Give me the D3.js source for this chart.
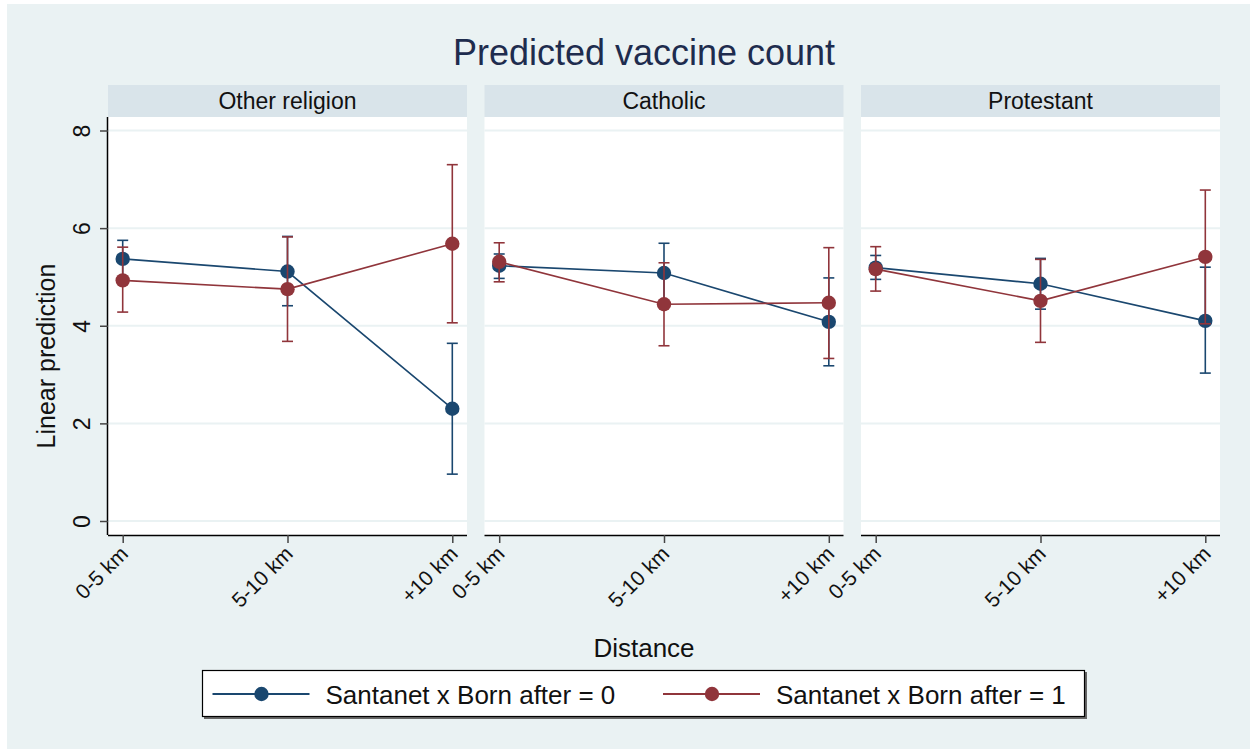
<!DOCTYPE html>
<html>
<head>
<meta charset="utf-8">
<script src="https://cdn.jsdelivr.net/npm/d3@7"></script>
<style>
  html, body { margin: 0; padding: 0; background: #ffffff; }
  svg { display: block; font-family: "Liberation Sans", Arial, sans-serif; }
</style>
</head>
<body>
<svg id="chart" width="1250" height="749"></svg>
<script>
// Panels (religion groups) and distance categories
const panels = ["Other religion", "Catholic", "Protestant"];
const distances = ["0-5 km", "5-10 km", "+10 km"];
const yTicks = [0, 2, 4, 6, 8];
const seriesNames = ["Santanet x Born after = 0", "Santanet x Born after = 1"];

// Predicted values per panel, by distance
const pred0 = [[5.37, 5.11, 2.30], [5.23, 5.08, 4.08], [5.19, 4.86, 4.10]];
const lo0   = [[4.99, 4.41, 0.96], [4.97, 4.47, 3.18], [4.95, 4.34, 3.03]];
const hi0   = [[5.75, 5.83, 3.64], [5.47, 5.69, 4.98], [5.44, 5.38, 5.20]];

const pred1 = [[4.93, 4.75, 5.68], [5.31, 4.44, 4.47], [5.16, 4.51, 5.41]];
const lo1   = [[4.28, 3.68, 4.06], [4.90, 3.59, 3.33], [4.71, 3.66, 4.04]];
const hi1   = [[5.61, 5.82, 7.30], [5.70, 5.29, 5.60], [5.62, 5.36, 6.78]];

const colors = ["#1a476f", "#90353b"];
const bg = "#eaf2f3";
const stripFill = "#d9e4ea";

const svg = d3.select("#chart");

// Graph region background
svg.append("rect").attr("x", 7).attr("y", 4).attr("width", 1243).attr("height", 745).attr("fill", bg);

// Title
svg.append("text").attr("x", 644).attr("y", 65).attr("text-anchor", "middle")
  .attr("font-size", 36).attr("fill", "#1e2c4e").text("Predicted vaccine count");

const panelLeft = [108, 484.5, 861];
const panelW = 359;
const plotTop = 117, plotBottom = 535;

const y = d3.scaleLinear().domain([0, 8]).range([521, 130.5]);

const seriesData = [
  { pred: pred0, lo: lo0, hi: hi0 },
  { pred: pred1, lo: lo1, hi: hi1 }
];

panels.forEach((name, p) => {
  const x0 = panelLeft[p];
  const x = d3.scalePoint().domain(distances).range([x0 + 14.7, x0 + panelW - 14.7]);
  const g = svg.append("g");

  // strip header
  g.append("rect").attr("x", x0).attr("y", 85).attr("width", panelW).attr("height", 32).attr("fill", stripFill);
  g.append("text").attr("x", x0 + panelW / 2).attr("y", 109).attr("text-anchor", "middle")
    .attr("font-size", 23).attr("fill", "#111").text(name);

  // plot area
  g.append("rect").attr("x", x0).attr("y", plotTop).attr("width", panelW).attr("height", plotBottom - plotTop).attr("fill", "#ffffff");

  // gridlines
  g.selectAll(".grid").data(yTicks).join("line")
    .attr("x1", x0).attr("x2", x0 + panelW)
    .attr("y1", d => y(d)).attr("y2", d => y(d))
    .attr("stroke", bg).attr("stroke-width", 2);

  // x axis
  const xAxis = g.append("g").attr("transform", `translate(0,${plotBottom})`)
    .call(d3.axisBottom(x).tickSize(8).tickPadding(4).tickSizeOuter(0));
  xAxis.select(".domain").attr("d", `M${x0},0.5H${x0 + panelW}`).attr("stroke", "#000").attr("stroke-width", 1.5);
  xAxis.selectAll(".tick line").attr("stroke", "#444").attr("stroke-width", 1.5);
  xAxis.selectAll(".tick text")
    .attr("font-size", 21).attr("fill", "#111")
    .attr("text-anchor", "end")
    .attr("x", 0).attr("y", 0).attr("dy", "0.35em")
    .attr("transform", "translate(1,15) rotate(-45)");

  // y axis on first panel only
  if (p === 0) {
    const yAxis = g.append("g").attr("transform", `translate(${x0},0)`)
      .call(d3.axisLeft(y).tickValues(yTicks).tickSize(8).tickPadding(0).tickSizeOuter(0));
    yAxis.select(".domain").attr("d", `M-0.5,${plotTop}V${plotBottom}`).attr("stroke", "#000").attr("stroke-width", 1.5);
    yAxis.selectAll(".tick line").attr("stroke", "#444").attr("stroke-width", 1.5);
    yAxis.selectAll(".tick text")
      .attr("font-size", 23).attr("fill", "#111")
      .attr("text-anchor", "middle")
      .attr("transform", "translate(-26.5,0) rotate(-90)")
      .attr("x", 0).attr("dy", "0.35em");
  }

  // series: error bars, connecting lines, markers
  seriesData.forEach((s, k) => {
    const c = colors[k];
    const pts = distances.map((d, i) => ({ d, v: s.pred[p][i], lo: s.lo[p][i], hi: s.hi[p][i] }));
    const sg = g.append("g");
    pts.forEach(pt => {
      const cx = x(pt.d);
      sg.append("line").attr("x1", cx).attr("x2", cx).attr("y1", y(pt.lo)).attr("y2", y(pt.hi))
        .attr("stroke", c).attr("stroke-width", 1.6);
      [pt.lo, pt.hi].forEach(v => {
        sg.append("line").attr("x1", cx - 5.5).attr("x2", cx + 5.5).attr("y1", y(v)).attr("y2", y(v))
          .attr("stroke", c).attr("stroke-width", 1.6);
      });
    });
    sg.append("path").datum(pts)
      .attr("d", d3.line().x(d => x(d.d)).y(d => y(d.v)))
      .attr("fill", "none").attr("stroke", c).attr("stroke-width", 1.6);
    sg.selectAll("circle").data(pts).join("circle")
      .attr("cx", d => x(d.d)).attr("cy", d => y(d.v)).attr("r", 7.2).attr("fill", c);
  });
});

// Axis titles
svg.append("text").attr("transform", "translate(55,356) rotate(-90)").attr("text-anchor", "middle")
  .attr("font-size", 25).attr("fill", "#111").text("Linear prediction");
svg.append("text").attr("x", 644).attr("y", 657).attr("text-anchor", "middle")
  .attr("font-size", 26).attr("fill", "#111").text("Distance");

// Legend
const lg = svg.append("g");
lg.append("rect").attr("x", 204).attr("y", 672).attr("width", 883).attr("height", 47).attr("fill", "#666");
lg.append("rect").attr("x", 202.5).attr("y", 670.5).attr("width", 882).attr("height", 46)
  .attr("fill", "#ffffff").attr("stroke", "#000").attr("stroke-width", 1.2);
const legendX = [212.5, 663];
seriesNames.forEach((n, k) => {
  const lx = legendX[k];
  lg.append("line").attr("x1", lx).attr("x2", lx + 97).attr("y1", 694).attr("y2", 694)
    .attr("stroke", colors[k]).attr("stroke-width", 1.8);
  lg.append("circle").attr("cx", lx + 49).attr("cy", 694).attr("r", 7.2).attr("fill", colors[k]);
  lg.append("text").attr("x", lx + 113).attr("y", 704).attr("font-size", 26).attr("fill", "#111").text(n);
});
</script>
</body>
</html>
